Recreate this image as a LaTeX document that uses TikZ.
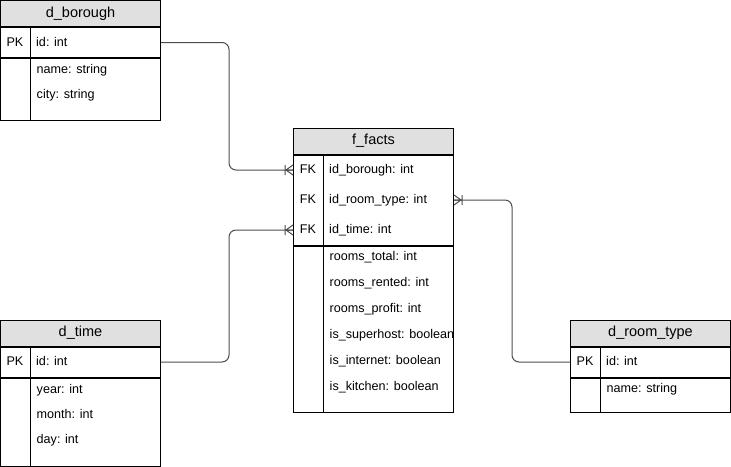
\documentclass[tikz,border=0pt]{standalone}
\usepackage{fontspec}
\setmainfont{Liberation Sans}
\usepackage{xcolor}
\usepackage{tikz}
\usetikzlibrary{positioning, calc}

\definecolor{hdrgray}{HTML}{E0E0E0}
\definecolor{linegray}{HTML}{4D4D4D}
\newcommand{\hdrfont}{\fontsize{14.5}{16}\selectfont}
\newcommand{\bodyfont}{\fontsize{12.6}{14}\selectfont}

\tikzset{
    crowfoot/.pic={
        \draw[linegray, line width=1pt] (-8,-5) -- (-8,5)
            (-7,0) -- (0,-5) (-7,0) -- (0,5) (-8,0) -- (0,0);
    }
}

\begin{document}
\begin{tikzpicture}[
    x=1pt, y=-1pt,
    hdr/.style={rectangle, draw, line width=1pt, fill=hdrgray, minimum width=160pt, minimum height=26pt, inner sep=0pt, font=\hdrfont},
    sec/.style={rectangle, draw, line width=1pt, minimum width=160pt, inner sep=0pt},
    keycell/.style={inner sep=0pt, text height=9pt, text depth=2pt, font=\bodyfont},
    field/.style={anchor=west, inner sep=0pt, text height=9pt, text depth=2pt, font=\bodyfont},
    rel/.style={draw=linegray, line width=1pt, rounded corners=7pt}
]
\useasboundingbox (0,0) rectangle (731,466);

% d_borough
\node[hdr] (bor) at (80.5,13.5) {d\_borough};
\node[sec, minimum height=30pt, below=0pt of bor] (borpk) {};
\node[sec, minimum height=62pt, below=0pt of borpk] (borbody) {};
\draw[line width=1pt] ([xshift=30pt]borpk.north west) -- ([xshift=30pt]borbody.south west);
\node[keycell] (borpkk) at ([xshift=15pt]borpk.west) {PK};
\node[field] (borid) at ([xshift=36pt]borpk.west) {id: int};
\node[field] (borname) at (36.5,70) {name: string};
\node[field] (borcity) at (36.5,95) {city: string};

% f_facts
\node[hdr] (fact) at (373.5,141) {f\_facts};
\node[sec, minimum height=90pt, below=0pt of fact] (factfk) {};
\node[sec, minimum height=166pt, below=0pt of factfk] (factbody) {};
\draw[line width=1pt] ([xshift=30pt]factfk.north west) -- ([xshift=30pt]factbody.south west);
\node[keycell] (fkbor) at ([xshift=15pt, yshift=30pt]factfk.west) {FK};
\node[keycell] (fkroom) at ([xshift=15pt]factfk.west) {FK};
\node[keycell] (fktime) at ([xshift=15pt, yshift=-30pt]factfk.west) {FK};
\node[field] at ([xshift=36pt]fkbor.center -| factfk.west) {id\_borough: int};
\node[field] at ([xshift=36pt]fkroom.center -| factfk.west) {id\_room\_type: int};
\node[field] at ([xshift=36pt]fktime.center -| factfk.west) {id\_time: int};
\begin{scope}
    \clip (factbody.north west) rectangle (factbody.south east);
    \node[field] (ftotal) at (329.5,257) {rooms\_total: int};
    \node[field] (frented) at (329.5,283) {rooms\_rented: int};
    \node[field] (fprofit) at (329.5,309) {rooms\_profit: int};
    \node[field] (fsuper) at (329.5,335) {is\_superhost: boolean};
    \node[field] (fnet) at (329.5,361) {is\_internet: boolean};
    \node[field] (fkitchen) at (329.5,387) {is\_kitchen: boolean};
\end{scope}

% d_time
\node[hdr] (time) at (80.5,333) {d\_time};
\node[sec, minimum height=30pt, below=0pt of time] (timepk) {};
\node[sec, minimum height=88pt, below=0pt of timepk] (timebody) {};
\draw[line width=1pt] ([xshift=30pt]timepk.north west) -- ([xshift=30pt]timebody.south west);
\node[keycell] (timepkk) at ([xshift=15pt]timepk.west) {PK};
\node[field] (timeid) at ([xshift=36pt]timepk.west) {id: int};
\node[field] (timeyear) at (36.5,390) {year: int};
\node[field] (timemonth) at (36.5,415) {month: int};
\node[field] (timeday) at (36.5,440) {day: int};

% d_room_type
\node[hdr] (room) at (650.5,333) {d\_room\_type};
\node[sec, minimum height=30pt, below=0pt of room] (roompk) {};
\node[sec, minimum height=34pt, below=0pt of roompk] (roombody) {};
\draw[line width=1pt] ([xshift=30pt]roompk.north west) -- ([xshift=30pt]roombody.south west);
\node[keycell] (roompkk) at ([xshift=15pt]roompk.west) {PK};
\node[field] (roomid) at ([xshift=36pt]roompk.west) {id: int};
\node[field] (roomname) at (606.5,389) {name: string};

% relations
\draw[rel] (borpk.east) -- ++(68,0) |- (fkbor -| factfk.west);
\pic at (fkbor -| factfk.west) {crowfoot};
\draw[rel] (timepk.east) -- ++(68,0) |- (fktime -| factfk.west);
\pic at (fktime -| factfk.west) {crowfoot};
\draw[rel] (roompk.west) -- ++(-58,0) |- (fkroom -| factfk.east);
\pic[xscale=-1] at (fkroom -| factfk.east) {crowfoot};

\end{tikzpicture}
\end{document}
